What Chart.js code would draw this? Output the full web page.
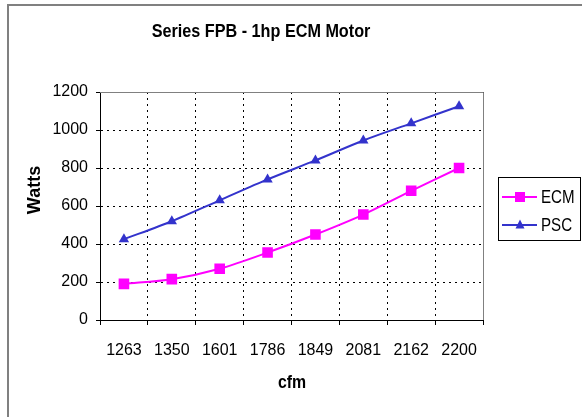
<!DOCTYPE html>
<html>
<head>
<meta charset="utf-8">
<script src="https://cdn.jsdelivr.net/npm/chart.js@4/dist/chart.umd.min.js"></script>
<style>
html,body{margin:0;padding:0;background:#fff;}
#wrap{width:582px;height:417px;position:relative;}
</style>
</head>
<body>
<div id="wrap"><canvas id="c" width="582" height="417"></canvas></div>
<script>
const chartTitle = 'Series FPB - 1hp ECM Motor';
const xTitle = 'cfm';
const yTitle = 'Watts';
const categories = ['1263','1350','1601','1786','1849','2081','2162','2200'];
const ecmWatts = [190, 215, 270, 355, 450, 555, 680, 800];
const pscWatts = [425, 520, 630, 740, 840, 945, 1035, 1125];
const yMin = 0, yMax = 1200, yStep = 200;

const FONT = "'Liberation Sans', Arial, sans-serif";
const MAGENTA = '#FF00FF';
const BLUE = '#3333CC';

function drawSquare(ctx, x, y, s, color){
  ctx.fillStyle = color;
  ctx.fillRect(x - s/2, y - s/2, s, s);
}
function drawTri(ctx, x, y, s, color){
  ctx.fillStyle = color;
  ctx.beginPath();
  ctx.moveTo(x, y - s*0.6);
  ctx.lineTo(x + s/2, y + s*0.4);
  ctx.lineTo(x - s/2, y + s*0.4);
  ctx.closePath();
  ctx.fill();
}
// condensed text: draw at font size, squeezed horizontally by factor sx
function condensedText(ctx, text, x, y, font, sx, align){
  ctx.save();
  ctx.font = font;
  ctx.textBaseline = 'middle';
  ctx.textAlign = align || 'center';
  ctx.translate(x, y);
  ctx.scale(sx, 1);
  ctx.fillText(text, 0, 0);
  ctx.restore();
}

const decor = {
  id: 'decor',
  beforeDraw(chart){
    const ctx = chart.ctx;
    ctx.save();
    ctx.fillStyle = '#fff';
    ctx.fillRect(0,0,chart.width,chart.height);
    ctx.restore();
  },
  afterDraw(chart){
    const ctx = chart.ctx;
    const a = chart.chartArea;
    ctx.save();
    // outer frame (left & top)
    ctx.fillStyle = '#808080';
    ctx.fillRect(7, 4, 2, chart.height - 4);
    ctx.fillRect(7, 4, chart.width - 7, 2);
    // plot area top & right border
    ctx.strokeStyle = '#808080';
    ctx.lineWidth = 1;
    ctx.beginPath();
    ctx.moveTo(a.left, a.top + 0.5);
    ctx.lineTo(a.right + 0.5, a.top + 0.5);
    ctx.lineTo(a.right + 0.5, a.bottom);
    ctx.stroke();
    // titles
    ctx.fillStyle = '#000';
    condensedText(ctx, chartTitle, 261, 32, 'bold 18px ' + FONT, 0.9);
    condensedText(ctx, xTitle, 292, 383, 'bold 18px ' + FONT, 0.88);
    ctx.save();
    ctx.translate(35, 190);
    ctx.rotate(-Math.PI/2);
    condensedText(ctx, yTitle, 0, 0, 'bold 18px ' + FONT, 1.0);
    ctx.restore();
    // legend
    ctx.strokeStyle = '#000';
    ctx.lineWidth = 1;
    ctx.strokeRect(498.5, 177.5, 82, 63);
    const rows = [
      {label: chart.data.datasets[0].label, color: MAGENTA, y: 197, shape: 'sq'},
      {label: chart.data.datasets[1].label, color: BLUE, y: 225, shape: 'tri'}
    ];
    rows.forEach(r => {
      ctx.strokeStyle = r.color;
      ctx.lineWidth = 2;
      ctx.beginPath();
      ctx.moveTo(502, r.y);
      ctx.lineTo(537, r.y);
      ctx.stroke();
      if (r.shape === 'sq') drawSquare(ctx, 520, r.y, 10, r.color);
      else drawTri(ctx, 520, r.y, 9, r.color);
      ctx.fillStyle = '#000';
      condensedText(ctx, r.label, 541, r.y + 1, '18px ' + FONT, 0.84, 'left');
    });
    ctx.restore();
  }
};

new Chart(document.getElementById('c'), {
  type: 'line',
  data: {
    labels: categories,
    datasets: [
      {label: 'ECM', data: ecmWatts, borderColor: MAGENTA, backgroundColor: MAGENTA,
       borderWidth: 2, pointStyle: 'rect', pointRadius: 7.5, pointBorderWidth: 0, tension: 0.3},
      {label: 'PSC', data: pscWatts, borderColor: BLUE, backgroundColor: BLUE,
       borderWidth: 2, pointStyle: 'triangle', pointRadius: 6, pointBorderWidth: 0, tension: 0.3}
    ]
  },
  options: {
    responsive: false,
    animation: false,
    devicePixelRatio: 1,
    layout: {padding: {left: 0, right: 99, top: 92, bottom: 0}},
    plugins: {legend: {display: false}, title: {display: false}, tooltip: {enabled: false}},
    scales: {
      x: {
        offset: true,
        grid: {
          offset: true,
          color: (c) => (c.index === categories.length ? 'rgba(0,0,0,0)' : '#000'),
          lineWidth: 1,
          tickLength: 5,
          tickColor: '#000',
          tickBorderDash: []
        },
        border: {display: true, color: '#000', width: 1, dash: [2, 4]},
        ticks: {color: '#000', font: {family: FONT, size: 16}, padding: 16, maxRotation: 0, autoSkip: false},
        afterFit(s){ s.height = 97; }
      },
      y: {
        min: yMin, max: yMax,
        grid: {
          color: (c) => (c.tick && c.tick.value === yMax ? 'rgba(0,0,0,0)' : '#000'),
          lineWidth: 1,
          tickLength: 4,
          tickColor: '#000',
          tickBorderDash: []
        },
        border: {display: true, color: '#000', width: 1, dash: [2, 4]},
        ticks: {stepSize: yStep, color: '#000', font: {family: FONT, size: 16}, padding: 8,
                callback: (v) => String(v)},
        afterFit(s){ s.width = 100; }
      }
    }
  },
  plugins: [decor]
});
</script>
</body>
</html>
